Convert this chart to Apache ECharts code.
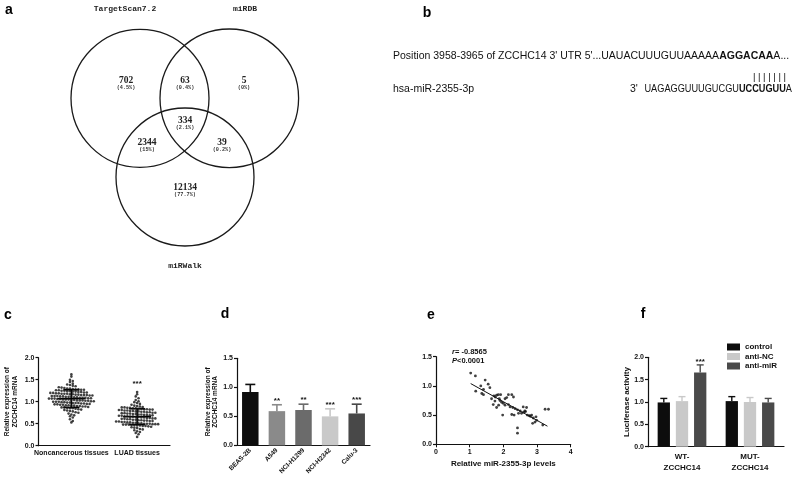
<!DOCTYPE html>
<html><head><meta charset="utf-8">
<script src="https://cdn.jsdelivr.net/npm/echarts@6.0.0/dist/echarts.min.js"></script>
<style>html,body{margin:0;padding:0;background:#fff}#chart{width:800px;height:477px}</style>
</head><body><div id="chart"></div>
<script>
// ---------- Panel a: Venn ----------
const vennSets = ['TargetScan7.2', 'miRDB', 'miRWalk'];
const vennCounts = [702, 63, 5, 334, 2344, 39, 12134];
const vennPercents = ['(4.5%)', '(0.4%)', '(0%)', '(2.1%)', '(15%)', '(0.2%)', '(77.7%)'];
// ---------- Panel b: sequences ----------
const bSiteLine = ["Position 3958-3965 of ZCCHC14 3' UTR 5'...UAUACUUUGUUAAAAA", 'AGGACAA', 'A...'];
const bMirName = 'hsa-miR-2355-3p';
const bMirLine = ["3'", 'UAGAGGUUUGUCGU', 'UCCUGUU', 'A'];
const bPairs = '| | | | | | |';
// ---------- Panel c ----------
const cCategories = ['Noncancerous tissues', 'LUAD tissues'];
const cNoncancerous = [1.62,1.57,1.50,1.47,1.45,1.41,1.39,1.38,1.36,1.35,1.33,1.32,1.31,1.30,1.30,1.29,1.28,1.28,1.27,1.27,1.26,1.26,1.25,1.25,1.24,1.24,1.23,1.23,1.22,1.22,1.21,1.21,1.20,1.20,1.19,1.19,1.18,1.18,1.18,1.17,1.17,1.16,1.16,1.15,1.15,1.15,1.14,1.14,1.13,1.13,1.13,1.12,1.12,1.11,1.11,1.11,1.10,1.10,1.09,1.09,1.09,1.08,1.08,1.07,1.07,1.07,1.06,1.06,1.05,1.05,1.05,1.04,1.04,1.03,1.03,1.03,1.02,1.02,1.01,1.01,1.00,1.00,1.00,0.99,0.99,0.98,0.98,0.97,0.97,0.97,0.96,0.96,0.95,0.95,0.94,0.94,0.93,0.93,0.92,0.92,0.91,0.91,0.90,0.90,0.89,0.89,0.88,0.87,0.87,0.86,0.85,0.85,0.84,0.83,0.82,0.81,0.80,0.79,0.78,0.76,0.75,0.73,0.71,0.69,0.67,0.64,0.60,0.56,0.53];
const cLUAD = [1.22,1.17,1.12,1.08,1.04,1.01,0.99,0.97,0.95,0.93,0.91,0.90,0.89,0.88,0.87,0.87,0.86,0.86,0.85,0.85,0.84,0.84,0.83,0.83,0.82,0.82,0.81,0.81,0.80,0.80,0.79,0.79,0.78,0.78,0.77,0.77,0.76,0.76,0.75,0.75,0.74,0.74,0.73,0.73,0.72,0.72,0.71,0.71,0.70,0.70,0.69,0.69,0.68,0.68,0.67,0.67,0.66,0.66,0.65,0.65,0.64,0.64,0.63,0.63,0.62,0.62,0.61,0.61,0.60,0.60,0.59,0.59,0.58,0.58,0.57,0.57,0.56,0.56,0.55,0.55,0.54,0.54,0.53,0.53,0.52,0.52,0.51,0.51,0.50,0.50,0.50,0.49,0.49,0.49,0.48,0.48,0.48,0.47,0.47,0.46,0.46,0.45,0.45,0.44,0.43,0.42,0.41,0.40,0.38,0.37,0.35,0.33,0.31,0.29,0.26,0.20];
const cMean = [1.07, 0.66];
const cSD = [0.20, 0.18];
const cStars = ['', '***'];
// ---------- Panel d ----------
const dCategories = ['BEAS-2B', 'A549', 'NCI-H1299', 'NCI-H2342', 'Calu-3'];
const dValues = [0.92, 0.59, 0.61, 0.50, 0.55];
const dErrors = [0.13, 0.11, 0.10, 0.13, 0.16];
const dStars = ['', '**', '**', '***', '***'];
// ---------- Panel e ----------
const eX = [1.03,1.17,1.18,1.46,1.55,1.33,1.41,1.36,1.41,1.60,1.72,1.76,1.80,1.85,1.92,1.75,1.70,1.80,1.86,1.95,2.05,2.10,2.15,2.25,2.30,1.98,2.20,2.28,2.35,2.42,2.50,2.25,2.32,2.45,2.54,2.59,2.69,2.64,2.71,2.77,2.84,2.89,2.97,2.87,2.94,2.99,3.17,3.24,3.34,2.42,2.42,2.05,2.15,1.88,1.65,1.90,2.00,2.60,2.66,2.80];
const eY = [1.22,1.17,0.91,1.10,1.03,1.00,0.94,0.87,0.85,0.97,0.83,0.81,0.84,0.85,0.85,0.74,0.68,0.63,0.67,0.72,0.78,0.80,0.85,0.85,0.81,0.50,0.64,0.63,0.61,0.59,0.57,0.51,0.50,0.53,0.53,0.64,0.63,0.57,0.50,0.49,0.50,0.45,0.47,0.36,0.38,0.41,0.33,0.60,0.60,0.28,0.19,0.67,0.68,0.78,0.78,0.75,0.70,0.55,0.56,0.48];
const eFitX = [1.03, 3.31];
const eFitY = [1.04, 0.31];
const eR = '-0.8565';
const eP = '<0.0001';
const eXName = 'Relative miR-2355-3p levels';
// ---------- Panel f ----------
const fCategories = ['WT-\nZCCHC14', 'MUT-\nZCCHC14'];
const fSeriesNames = ['control', 'anti-NC', 'anti-miR'];
const fControl = [0.99, 1.02];
const fControlErr = [0.09, 0.10];
const fAntiNC = [1.02, 1.00];
const fAntiNCErr = [0.10, 0.10];
const fAntiMiR = [1.66, 0.99];
const fAntiMiRErr = [0.17, 0.09];
const fStars = ['***', ''];

// ================= build =================
const SANS = 'Liberation Sans, Arial, sans-serif';
const SERIF = 'Liberation Serif, serif';
const MONO = 'Liberation Mono, monospace';
const AX = '#111';
const tickLbl = { fontFamily: SANS, fontWeight: 'bold', fontSize: 7, color: '#111', margin: 4 };

function swarm(values, center, binW, step) {
  const bins = {};
  values.forEach(v => { const k = Math.round(v / binW); (bins[k] = bins[k] || []).push(v); });
  const pts = [];
  Object.keys(bins).forEach(k => {
    const arr = bins[k], n = arr.length;
    arr.forEach((v, i) => pts.push([center + (i - (n - 1) / 2) * step, v]));
  });
  return pts;
}

function baseY(grid, max) {
  return {
    type: 'value', gridIndex: grid, min: 0, max: max, interval: 0.5,
    axisLine: { show: true, lineStyle: { color: AX, width: 1.2 } },
    axisTick: { show: true, length: 3, lineStyle: { color: AX, width: 1.2 } },
    splitLine: { show: false },
    axisLabel: Object.assign({ formatter: v => v.toFixed(1) }, tickLbl)
  };
}

const dColors = ['#0d0d0d', '#8a8a8a', '#6b6b6b', '#c9c9c9', '#484848'];
const fColors = ['#0d0d0d', '#c9c9c9', '#4a4a4a'];

function errBar(x, yTop, yBase, cap, color, lw) {
  return [
    { type: 'line', shape: { x1: x, y1: yBase, x2: x, y2: yTop }, style: { stroke: color, lineWidth: lw } },
    { type: 'line', shape: { x1: x - cap / 2, y1: yTop, x2: x + cap / 2, y2: yTop }, style: { stroke: color, lineWidth: lw } }
  ];
}
function starText(x, y, t) {
  return { type: 'text', x: x, y: y, style: { text: t, align: 'center', verticalAlign: 'middle', fontFamily: SANS, fontWeight: 'bold', fontSize: 8, fill: '#111' } };
}

const option = {
  animation: false,
  backgroundColor: '#fff',
  grid: [
    { left: 38.5, top: 357.7, width: 131.5, height: 88 },
    { left: 237, top: 358.3, width: 133, height: 88.4 },
    { left: 436, top: 356.7, width: 134.7, height: 87.6 },
    { left: 648, top: 357.3, width: 136, height: 89.4 }
  ],
  legend: {
    data: fSeriesNames, orient: 'vertical', left: 722, top: 338,
    itemWidth: 13, itemHeight: 7, itemGap: 1.5, icon: 'rect',
    textStyle: { fontFamily: SANS, fontWeight: 'bold', fontSize: 8, color: '#111', padding: [0, 0, 0, 0] }
  },
  xAxis: [
    { type: 'category', gridIndex: 0, data: cCategories,
      axisLine: { lineStyle: { color: AX, width: 1.2 } },
      axisTick: { alignWithLabel: true, length: 3, lineStyle: { color: AX } },
      axisLabel: Object.assign({}, tickLbl, { interval: 0 }) },
    { type: 'value', gridIndex: 0, min: 0, max: 2, show: false },
    { type: 'category', gridIndex: 1, data: dCategories,
      axisLine: { lineStyle: { color: AX, width: 1.2 } },
      axisTick: { alignWithLabel: true, length: 3, lineStyle: { color: AX } },
      axisLabel: Object.assign({}, tickLbl, { interval: 0, rotate: 45, fontSize: 6.5, margin: 4 }) },
    { type: 'value', gridIndex: 2, min: 0, max: 4, interval: 1,
      axisLine: { show: true, lineStyle: { color: AX, width: 1.2 } },
      axisTick: { show: true, length: 3, lineStyle: { color: AX } },
      splitLine: { show: false },
      axisLabel: Object.assign({}, tickLbl),
      name: eXName, nameLocation: 'middle', nameGap: 15,
      nameTextStyle: { fontFamily: SANS, fontWeight: 'bold', fontSize: 8, color: '#111' } },
    { type: 'category', gridIndex: 3, data: fCategories,
      axisLine: { lineStyle: { color: AX, width: 1.2 } },
      axisTick: { alignWithLabel: true, length: 3, lineStyle: { color: AX } },
      axisLabel: Object.assign({}, tickLbl, { interval: 0, fontSize: 8, lineHeight: 10.5, margin: 5 }) }
  ],
  yAxis: [
    Object.assign(baseY(0, 2), { name: 'Relative expression of\nZCCHC14 mRNA', nameLocation: 'middle', nameGap: 20,
      nameTextStyle: { fontFamily: SANS, fontWeight: 'bold', fontSize: 6.5, lineHeight: 7.5, color: '#111' } }),
    Object.assign(baseY(1, 1.5), { name: 'Relative expression of\nZCCHC14 mRNA', nameLocation: 'middle', nameGap: 17,
      nameTextStyle: { fontFamily: SANS, fontWeight: 'bold', fontSize: 6.5, lineHeight: 7.5, color: '#111' } }),
    baseY(2, 1.5),
    Object.assign(baseY(3, 2), { name: 'Luciferase activity', nameLocation: 'middle', nameGap: 15,
      nameTextStyle: { fontFamily: SANS, fontWeight: 'bold', fontSize: 8, color: '#111' } })
  ],
  series: [
    { name: 'c-non', type: 'scatter', xAxisIndex: 1, yAxisIndex: 0, symbolSize: 2.6,
      itemStyle: { color: '#111' }, data: swarm(cNoncancerous, 0.5, 0.065, 0.0426) },
    { name: 'c-luad', type: 'scatter', xAxisIndex: 1, yAxisIndex: 0, symbolSize: 2.6,
      itemStyle: { color: '#111' }, data: swarm(cLUAD, 1.5, 0.065, 0.0426) },
    { name: 'c-err', type: 'custom', xAxisIndex: 1, yAxisIndex: 0,
      data: cMean.map((m, i) => [i + 0.5, m, cSD[i], i]),
      renderItem: (p, api) => {
        const x = api.value(0), m = api.value(1), s = api.value(2), i = api.value(3);
        const pm = api.coord([x, m]), ph = api.coord([x, m + s]), pl = api.coord([x, m - s]);
        const st = { stroke: '#000', lineWidth: 1.6 };
        const ch = [
          { type: 'line', shape: { x1: ph[0], y1: ph[1], x2: pl[0], y2: pl[1] }, style: st },
          { type: 'line', shape: { x1: pm[0] - 14, y1: pm[1], x2: pm[0] + 14, y2: pm[1] }, style: st },
          { type: 'line', shape: { x1: ph[0] - 8, y1: ph[1], x2: ph[0] + 8, y2: ph[1] }, style: st },
          { type: 'line', shape: { x1: pl[0] - 8, y1: pl[1], x2: pl[0] + 8, y2: pl[1] }, style: st }
        ];
        if (cStars[i]) {
          const grp = i === 0 ? cNoncancerous : cLUAD;
          const top = api.coord([x, Math.max.apply(null, grp)]);
          ch.push(starText(top[0], top[1] - 8, cStars[i]));
        }
        return { type: 'group', children: ch };
      } },
    { name: 'd-bars', type: 'bar', xAxisIndex: 2, yAxisIndex: 1, barWidth: '62%',
      data: dValues.map((v, i) => ({ value: v, itemStyle: { color: dColors[i] } })) },
    { name: 'd-err', type: 'custom', xAxisIndex: 2, yAxisIndex: 1,
      data: dValues.map((v, i) => [i, v, dErrors[i]]),
      renderItem: (p, api) => {
        const i = api.value(0), v = api.value(1), e = api.value(2);
        const pb = api.coord([i, v]), pt = api.coord([i, v + e]);
        const ch = errBar(pb[0], pt[1], pb[1], 10, dColors[i], 1.6);
        if (dStars[i]) ch.push(starText(pt[0], pt[1] - 4, dStars[i]));
        return { type: 'group', children: ch };
      } },
    { name: 'e-pts', type: 'scatter', xAxisIndex: 3, yAxisIndex: 2, symbolSize: 2.8,
      itemStyle: { color: '#111' }, data: eX.map((x, i) => [x, eY[i]]) },
    { name: 'e-fit', type: 'line', xAxisIndex: 3, yAxisIndex: 2, symbol: 'none',
      lineStyle: { color: '#111', width: 1 }, data: eFitX.map((x, i) => [x, eFitY[i]]) },
    { name: fSeriesNames[0], type: 'bar', xAxisIndex: 4, yAxisIndex: 3, barWidth: 12.3, barGap: '48%',
      itemStyle: { color: fColors[0] }, data: fControl },
    { name: fSeriesNames[1], type: 'bar', xAxisIndex: 4, yAxisIndex: 3, barWidth: 12.3, barGap: '48%',
      itemStyle: { color: fColors[1] }, data: fAntiNC },
    { name: fSeriesNames[2], type: 'bar', xAxisIndex: 4, yAxisIndex: 3, barWidth: 12.3, barGap: '48%',
      itemStyle: { color: fColors[2] }, data: fAntiMiR },
    { name: 'f-err', type: 'custom', xAxisIndex: 4, yAxisIndex: 3,
      data: (() => { const d = []; const vals = [fControl, fAntiNC, fAntiMiR], errs = [fControlErr, fAntiNCErr, fAntiMiRErr];
        vals.forEach((arr, s) => arr.forEach((v, i) => d.push([i, v, errs[s][i], s]))); return d; })(),
      renderItem: (p, api) => {
        const i = api.value(0), v = api.value(1), e = api.value(2), s = api.value(3);
        const off = (s - 1) * 18.2;
        const pb = api.coord([i, v]), pt = api.coord([i, v + e]);
        const ch = errBar(pb[0] + off, pt[1], pb[1], 7, fColors[s], 1.4);
        if (s === 2 && fStars[i]) ch.push(starText(pb[0] + off, pt[1] - 3, fStars[i]));
        return { type: 'group', children: ch };
      } }
  ],
  graphic: []
};

// ---- graphic: panel letters ----
const letters = [['a', 9, 10], ['b', 427, 13], ['c', 8, 315], ['d', 225, 314], ['e', 431, 315], ['f', 643, 314]];
letters.forEach(l => option.graphic.push({ type: 'text', x: l[1], y: l[2],
  style: { text: l[0], align: 'center', verticalAlign: 'middle', fontFamily: SANS, fontWeight: 'bold', fontSize: 14, fill: '#000' } }));

// ---- Venn (layout geometry) ----
const vennCircles = [[140, 98.3, 69], [229.3, 98.3, 69.3], [185, 177, 69]];
vennCircles.forEach(c => option.graphic.push({ type: 'circle', shape: { cx: c[0], cy: c[1], r: c[2] },
  style: { fill: 'none', stroke: '#1a1a1a', lineWidth: 1.3 } }));
const vennTitlePos = [[125, 9], [245, 9], [185, 266]];
vennSets.forEach((t, i) => option.graphic.push({ type: 'text', x: vennTitlePos[i][0], y: vennTitlePos[i][1],
  style: { text: t, align: 'center', verticalAlign: 'middle', fontFamily: MONO, fontWeight: 'bold', fontSize: 8, fill: '#222' } }));
const vennLabelPos = [[126, 81], [185, 81], [244, 81], [185, 121], [147, 143], [222, 143], [185, 188]];
vennCounts.forEach((n, i) => {
  option.graphic.push({ type: 'text', x: vennLabelPos[i][0], y: vennLabelPos[i][1],
    style: { text: String(n), align: 'center', verticalAlign: 'middle', fontFamily: SERIF, fontWeight: 'bold', fontSize: 9.5, fill: '#222' } });
  option.graphic.push({ type: 'text', x: vennLabelPos[i][0], y: vennLabelPos[i][1] + 7,
    style: { text: vennPercents[i], align: 'center', verticalAlign: 'middle', fontFamily: MONO, fontWeight: 'bold', fontSize: 5.2, fill: '#333' } });
});

// ---- Panel b ----
const bRich = { n: { fontFamily: SANS, fontSize: 10.5, fill: '#111' }, b: { fontFamily: SANS, fontSize: 10.5, fontWeight: 'bold', fill: '#111' } };
option.graphic.push({ type: 'text', x: 393, y: 56, style: {
  text: '{n|' + bSiteLine[0] + '}{b|' + bSiteLine[1] + '}{n|' + bSiteLine[2] + '}', rich: bRich,
  align: 'left', verticalAlign: 'middle', fontFamily: SANS, fontSize: 10.5 } });
option.graphic.push({ type: 'text', x: 786, y: 77, style: {
  text: bPairs, align: 'right', verticalAlign: 'middle', fontFamily: SANS, fontSize: 9.5, fill: '#111' } });
option.graphic.push({ type: 'text', x: 393, y: 89, style: {
  text: bMirName, align: 'left', verticalAlign: 'middle', fontFamily: SANS, fontSize: 10.5, fill: '#111' } });
option.graphic.push({ type: 'text', x: 630, y: 89, style: {
  text: bMirLine[0], align: 'left', verticalAlign: 'middle', fontFamily: SANS, fontSize: 10.5, fill: '#111' } });
option.graphic.push({ type: 'text', x: 792, y: 89, scaleX: 0.875, style: {
  text: '{n|' + bMirLine[1] + '}{b|' + bMirLine[2] + '}{n|' + bMirLine[3] + '}', rich: bRich,
  align: 'right', verticalAlign: 'middle', fontFamily: SANS, fontSize: 10.5 } });

// ---- Panel e annotation ----
const eRich = { i: { fontFamily: SANS, fontSize: 7.5, fontWeight: 'bold', fontStyle: 'italic', fill: '#111' },
                n: { fontFamily: SANS, fontSize: 7.5, fontWeight: 'bold', fill: '#111' } };
option.graphic.push({ type: 'text', x: 452, y: 352, style: { text: '{i|r}{n|= ' + eR + '}', rich: eRich, align: 'left', verticalAlign: 'middle' } });
option.graphic.push({ type: 'text', x: 452, y: 361, style: { text: '{i|P}{n|' + eP + '}', rich: eRich, align: 'left', verticalAlign: 'middle' } });

const chart = echarts.init(document.getElementById('chart'), null, { renderer: 'canvas' });
chart.setOption(option);
</script></body></html>
